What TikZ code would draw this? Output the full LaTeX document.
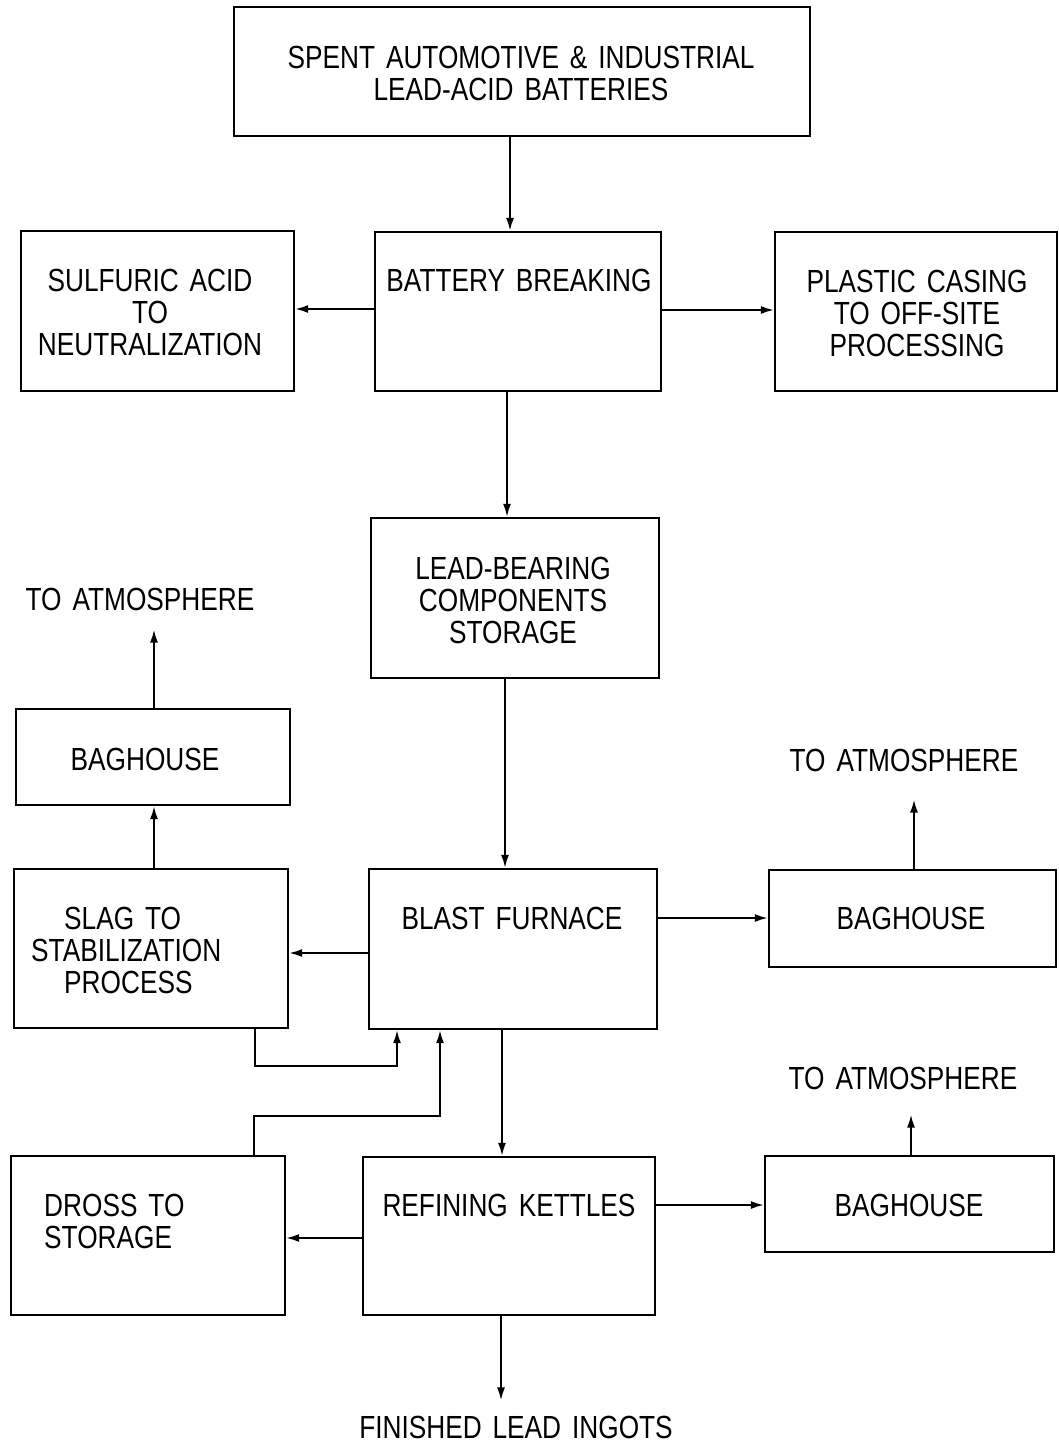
\documentclass[tikz,border=0pt]{standalone}
\usepackage{fontspec}
\setmainfont[FakeStretch=0.82,WordSpace=1.5]{Liberation Sans}
\usetikzlibrary{arrows.meta}
\tikzset{
  box/.style={draw, line width=2.2pt, inner sep=0pt},
  txt/.style={inner sep=0pt, align=center, font=\fontsize{32}{32}\selectfont},
  arr/.style={line width=2pt, -{Latex[length=13pt,width=8pt]}},
  ln/.style={line width=2pt}
}
\newcommand\mybox[5]{\node[box, minimum width=#4pt, minimum height=#5pt] (#1) at (#2,#3) {};}
\begin{document}
\begin{tikzpicture}[x=1pt,y=-1pt]
\useasboundingbox (0,0) rectangle (1058,1442);
% boxes
\mybox{top}{522}{71.5}{576}{129}
\mybox{bb}{518}{311.5}{286}{159}
\mybox{sulf}{157.5}{311}{273}{160}
\mybox{plast}{916}{311.5}{282}{159}
\mybox{lead}{515}{598}{288}{160}
\mybox{bagL}{153}{757}{274}{96}
\mybox{slag}{151}{948.5}{274}{159}
\mybox{blast}{513}{949}{288}{160}
\mybox{bagM}{912.5}{918.5}{287}{97}
\mybox{dross}{148}{1235.5}{274}{159}
\mybox{refin}{509}{1236}{292}{158}
\mybox{bagB}{909.5}{1204}{289}{96}
% texts
\node[txt] (ttop) at (521,73) {SPENT AUTOMOTIVE \& INDUSTRIAL\\LEAD-ACID BATTERIES};
\node[txt] (tbb) at (519,280) {BATTERY BREAKING};
\node[txt] (tsulf) at (150,312) {SULFURIC ACID\\TO\\NEUTRALIZATION};
\node[txt] (tplast) at (917,313) {PLASTIC CASING\\TO OFF-SITE\\PROCESSING};
\node[txt] (tlead) at (513,600) {LEAD-BEARING\\COMPONENTS\\STORAGE};
\node[txt] (atmL) at (140,599) {TO ATMOSPHERE};
\node[txt] (tbagL) at (145,759) {BAGHOUSE};
\node[txt, align=left, anchor=west] (tslag) at (31,950) {\hspace*{33pt}SLAG TO\\STABILIZATION\\\hspace*{33pt}PROCESS};
\node[txt] (tblast) at (512,918) {BLAST FURNACE};
\node[txt] (atmM) at (904,760) {TO ATMOSPHERE};
\node[txt] (tbagM) at (911,918) {BAGHOUSE};
\node[txt] (atmB) at (903,1078) {TO ATMOSPHERE};
\node[txt, align=left, anchor=west] (tdross) at (44,1221) {DROSS TO\\STORAGE};
\node[txt] (trefin) at (509,1205) {REFINING KETTLES};
\node[txt] (tbagB) at (909,1205) {BAGHOUSE};
\node[txt] (fin) at (516,1427) {FINISHED LEAD INGOTS};
% helper coordinates
\coordinate (c1) at (510,0);
\coordinate (c2) at (0,309);
\coordinate (c3) at (0,310);
\coordinate (c4) at (507,0);
\coordinate (c5) at (505,0);
\coordinate (c6) at (0,953);
\coordinate (c7) at (154,0);
\coordinate (c8) at (0,918);
\coordinate (c9) at (914,0);
\coordinate (l1) at (255,1066);
\coordinate (l2) at (397,1066);
\coordinate (d1) at (254,1116);
\coordinate (d2) at (440,1116);
\coordinate (c10) at (502,0);
\coordinate (c11) at (0,1238);
\coordinate (c12) at (0,1205);
\coordinate (c13) at (911,0);
\coordinate (c14) at (501,0);
% connectors
\draw[arr] (top.south -| c1) -- (bb.north -| c1);
\draw[arr] (bb.west |- c2) -- (sulf.east |- c2);
\draw[arr] (bb.east |- c3) -- (plast.west |- c3);
\draw[arr] (bb.south -| c4) -- (lead.north -| c4);
\draw[arr] (lead.south -| c5) -- (blast.north -| c5);
\draw[arr] (blast.west |- c6) -- (slag.east |- c6);
\draw[arr] (slag.north -| c7) -- (bagL.south -| c7);
\draw[arr, shorten >=19pt] (bagL.north -| c7) -- (atmL.south -| c7);
\draw[arr] (blast.east |- c8) -- (bagM.west |- c8);
\draw[arr, shorten >=28pt] (bagM.north -| c9) -- (atmM.south -| c9);
\draw[arr] (slag.south -| l1) -- (l1) -- (l2) -- (blast.south -| l2);
\draw[arr] (dross.north -| d1) -- (d1) -- (d2) -- (blast.south -| d2);
\draw[arr] (blast.south -| c10) -- (refin.north -| c10);
\draw[arr] (refin.west |- c11) -- (dross.east |- c11);
\draw[arr] (refin.east |- c12) -- (bagB.west |- c12);
\draw[arr, shorten >=25pt] (bagB.north -| c13) -- (atmB.south -| c13);
\draw[arr, shorten >=15pt] (refin.south -| c14) -- (fin.north -| c14);
\end{tikzpicture}
\end{document}
